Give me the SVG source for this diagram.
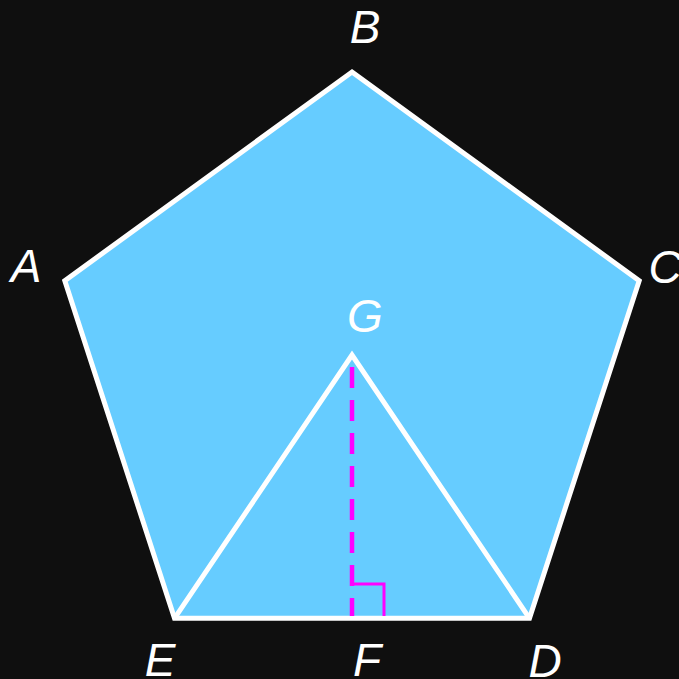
<svg xmlns="http://www.w3.org/2000/svg" width="679" height="679" viewBox="0 0 679 679">
  <style>
    .edge { stroke: #ffffff; stroke-width: 5; stroke-linejoin: miter; }
    .pent { fill: #66ccff; }
    .open { fill: none; }
    .label { font-family: "Liberation Sans", Arial, sans-serif; font-style: italic; font-size: 46px; fill: #ffffff; text-anchor: middle; }
    .mag { fill: none; stroke: #ff00ff; }
  </style>
  <rect x="0" y="0" width="679" height="679" fill="#0f0f0f"/>
  <g id="pentagon">
    <polygon points="352,72 639.2,280.7 529.5,618.3 174.5,618.3 64.8,280.7" class="edge pent"/>
  </g>
  <g id="triangle">
    <polyline points="174.5,618.3 352,355 529.5,618.3" class="edge open"/>
  </g>
  <g id="connectors">
    <line x1="352" y1="367" x2="352" y2="616" class="mag" stroke-width="4.5" stroke-dasharray="21 12"/>
    <polyline points="352,584 384,584 384,616" class="mag" stroke-width="3"/>
  </g>
  <g id="labels">
    <g id="label-B"><text class="label" x="365" y="43">B</text></g>
    <g id="label-A"><text class="label" x="26" y="282">A</text></g>
    <g id="label-C"><text class="label" x="665" y="283">C</text></g>
    <g id="label-G"><text class="label" x="365" y="332">G</text></g>
    <g id="label-E"><text class="label" x="160" y="676">E</text></g>
    <g id="label-F"><text class="label" x="367" y="676">F</text></g>
    <g id="label-D"><text class="label" x="545" y="677">D</text></g>
  </g>
</svg>
